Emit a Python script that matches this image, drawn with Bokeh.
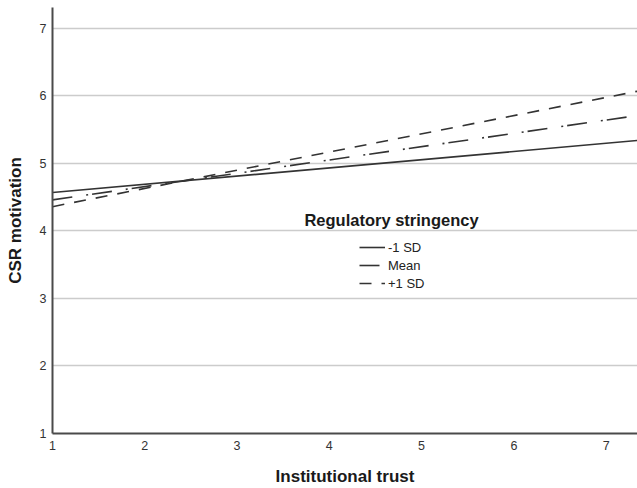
from bokeh.plotting import figure
from bokeh.models import Legend, LegendItem, Label, FixedTicker, Range1d
from bokeh.embed import file_html
from bokeh.resources import INLINE

# ---- data ----
trust = [1.0, 7.34]                 # Institutional trust (x extent of the lines)
low_sd = [4.57, 5.34]               # Regulatory stringency -1 SD
mean_rs = [4.46, 5.71]              # Regulatory stringency Mean
high_sd = [4.36, 6.07]              # Regulatory stringency +1 SD
series_labels = ["-1 SD", "Mean", "+1 SD"]
x_ticks = [1, 2, 3, 4, 5, 6, 7]
y_ticks = [1, 2, 3, 4, 5, 6, 7]

FONT = "Liberation Sans"
LINE = "#333333"

p = figure(width=637, height=488,
           x_range=Range1d(1, 7.34), y_range=Range1d(1, 7.31),
           output_backend="svg", toolbar_location=None,
           min_border_left=52, min_border_right=0,
           min_border_top=7, min_border_bottom=55)
p.outline_line_color = None
p.background_fill_color = "white"
p.border_fill_color = "white"

# axes
for ax in (p.xaxis[0], p.yaxis[0]):
    ax.axis_line_color = "#4a4a4a"
    ax.axis_line_width = 2
    ax.major_tick_line_color = None
    ax.minor_tick_line_color = None
    ax.major_tick_out = 0
    ax.major_tick_in = 0
    ax.major_label_text_font = FONT
    ax.major_label_text_font_size = "12.5px"
    ax.major_label_text_color = "#333333"
    ax.axis_label_text_font = FONT
    ax.axis_label_text_font_size = "17px"
    ax.axis_label_text_font_style = "bold"
    ax.axis_label_text_color = "#1a1a1a"

p.xaxis.ticker = FixedTicker(ticks=x_ticks)
p.yaxis.ticker = FixedTicker(ticks=y_ticks)
p.xaxis.axis_label = "Institutional trust"
p.yaxis.axis_label = "CSR motivation"
p.xaxis.major_label_standoff = 7
p.yaxis.major_label_standoff = 6
p.xaxis.axis_label_standoff = 14
p.yaxis.axis_label_standoff = 12

# grid
p.xgrid.visible = False
p.ygrid.ticker = FixedTicker(ticks=y_ticks)
p.ygrid.grid_line_color = "#cccccc"
p.ygrid.grid_line_width = 1.6

# lines
r_low = p.line(trust, low_sd, line_color=LINE, line_width=1.6)
r_mean = p.line(trust, mean_rs, line_color=LINE, line_width=1.6, line_dash="20 14 2 4")
r_high = p.line(trust, high_sd, line_color=LINE, line_width=1.6, line_dash="12 10")

legend = Legend(items=[LegendItem(label=series_labels[0], renderers=[r_low]),
                       LegendItem(label=series_labels[1], renderers=[r_mean]),
                       LegendItem(label=series_labels[2], renderers=[r_high])],
                location=(307, 142), orientation="vertical",
                padding=0, margin=0, spacing=2,
                glyph_width=26, glyph_height=16, label_height=16,
                label_standoff=3,
                label_text_font=FONT, label_text_font_size="13px",
                label_text_color="#222222",
                border_line_color=None, background_fill_alpha=0)
p.add_layout(legend)

title = Label(x=3.73, y=4.16, text="Regulatory stringency",
              text_font=FONT, text_font_size="16.5px", text_font_style="bold",
              text_color="#1a1a1a", text_baseline="middle", text_align="left")
p.add_layout(title)

open("out.html", "w").write(file_html(p, INLINE))
